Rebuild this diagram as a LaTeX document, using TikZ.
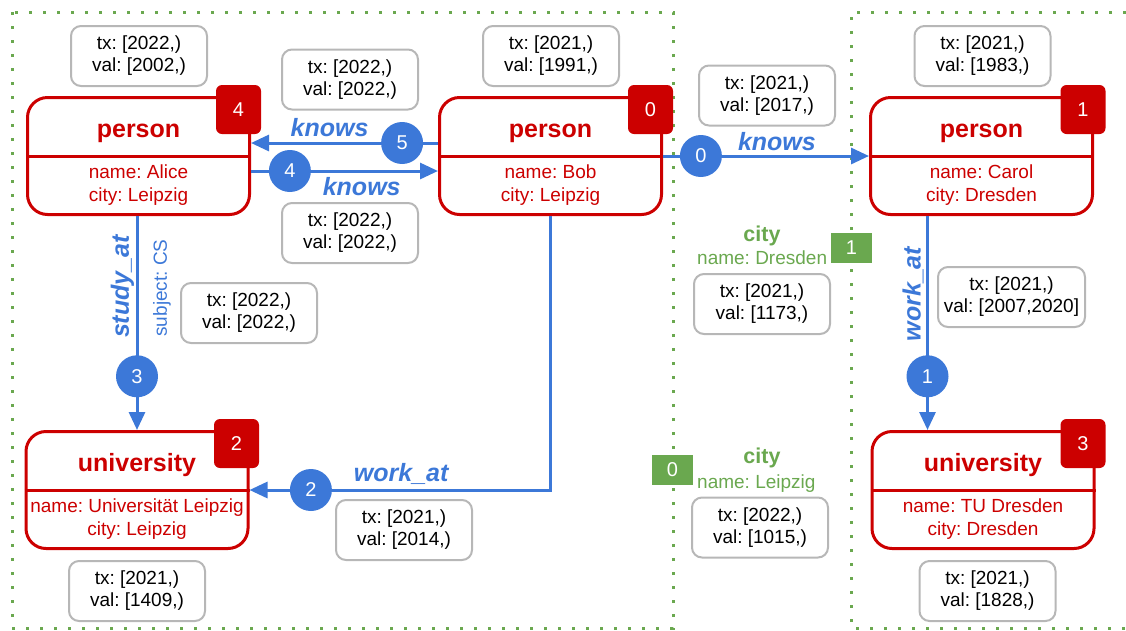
\documentclass[tikz,border=0pt]{standalone}
\usepackage{fontspec}
\setmainfont{Liberation Sans}
\frenchspacing
\usetikzlibrary{arrows.meta,positioning}
\definecolor{entRed}{HTML}{CC0000}
\definecolor{relBlue}{HTML}{3C78D8}
\definecolor{cityGreen}{HTML}{6AA84F}
\definecolor{propGray}{HTML}{B7B7B7}

\begin{document}
\begin{tikzpicture}[
    x=1pt, y=-1pt,
    frame/.style={draw=cityGreen, line width=3pt, dash pattern=on 3pt off 11pt},
    ent/.style={rectangle, rounded corners=20pt, draw=entRed, line width=3pt,
                minimum width=222pt, minimum height=117pt, inner sep=0pt},
    sep/.style={draw=entRed, line width=3pt},
    enttitle/.style={text=entRed, font=\fontsize{25}{30}\selectfont\bfseries, anchor=base, inner sep=0pt},
    entattr/.style={text=entRed, font=\fontsize{19}{22.5}\selectfont, align=center, inner sep=0pt},
    badge/.style={rectangle, rounded corners=6pt, fill=entRed, text=white, minimum width=45pt,
                  minimum height=49pt, font=\fontsize{20}{24}\selectfont, inner sep=0pt},
    prop/.style={rectangle, rounded corners=10pt, draw=propGray, line width=2pt, fill=white,
                 minimum width=136pt, minimum height=60pt, align=center,
                 font=\fontsize{19}{22}\selectfont, inner sep=0pt},
    rel/.style={draw=relBlue, line width=3pt, -{Triangle[length=18pt, width=16pt]}},
    num/.style={circle, fill=relBlue, text=white, minimum size=42pt, inner sep=0pt,
                font=\fontsize{20}{24}\selectfont},
    lbl/.style={text=relBlue, font=\fontsize{25}{30}\selectfont\bfseries\itshape, inner sep=0pt},
    sublbl/.style={text=relBlue, font=\fontsize{19}{22}\selectfont, inner sep=0pt},
    ctitle/.style={text=cityGreen, font=\fontsize{21.5}{26}\selectfont\bfseries, anchor=base, inner sep=0pt},
    cattr/.style={text=cityGreen, font=\fontsize{19}{22}\selectfont, anchor=base west, inner sep=0pt},
    cbadge/.style={rectangle, fill=cityGreen, text=white, minimum width=41pt, minimum height=30pt,
                   font=\fontsize{20}{24}\selectfont, inner sep=0pt},
]
    \useasboundingbox (0,0) rectangle (1126,630);

    % Frames
    \draw[frame] (12,12) rectangle (673,628);
    \draw[frame] (1126,12) -- (851,12) -- (851,628) -- (1126,628);

    % Persons
    \node[ent] (alice) at (138.5,156) {};
    \draw[sep] (alice.west) -- (alice.east);
    \node[enttitle] (alice-t) at (138.5,137.5) {person};
    \node[entattr] (alice-a) at (138.5,185) {name: Alice\\city: Leipzig};
    \node[badge] (alice-b) at (238.5,109.5) {4};
    \node[prop] (alice-p) at (139,56) {tx: [2022,)\\val: [2002,)};

    \node[ent] (bob) at (550.5,156) {};
    \draw[sep] (bob.west) -- (bob.east);
    \node[enttitle] (bob-t) at (550.5,137.5) {person};
    \node[entattr] (bob-a) at (550.5,185) {name: Bob\\city: Leipzig};
    \node[badge] (bob-b) at (650.5,109.5) {0};
    \node[prop] (bob-p) at (551,56) {tx: [2021,)\\val: [1991,)};

    \node[ent] (carol) at (981.5,156) {};
    \draw[sep] (carol.west) -- (carol.east);
    \node[enttitle] (carol-t) at (981.5,137.5) {person};
    \node[entattr] (carol-a) at (981.5,185) {name: Carol\\city: Dresden};
    \node[badge] (carol-b) at (1083,109.5) {1};
    \node[prop] (carol-p) at (982.5,56) {tx: [2021,)\\val: [1983,)};

    % Universities
    \node[ent] (leipuni) at (137,490) {};
    \draw[sep] (leipuni.west) -- (leipuni.east);
    \node[enttitle] (leipuni-t) at (137,471.5) {university};
    \node[entattr] (leipuni-a) at (137,519) {name: Universität Leipzig\\city: Leipzig};
    \node[badge] (leipuni-b) at (236.5,443.5) {2};
    \node[prop] (leipuni-p) at (137,591) {tx: [2021,)\\val: [1409,)};

    \node[ent] (tuuni) at (983,490) {};
    \draw[sep] (tuuni.west) -- (tuuni.east);
    \node[enttitle] (tuuni-t) at (983,471.5) {university};
    \node[entattr] (tuuni-a) at (983,519) {name: TU Dresden\\city: Dresden};
    \node[badge] (tuuni-b) at (1083,443.5) {3};
    \node[prop] (tuuni-p) at (987.5,591) {tx: [2021,)\\val: [1828,)};

    % Cities
    \node[ctitle] (dres-t) at (762,241) {city};
    \node[cattr] (dres-a) at (697,264.5) {name: Dresden};
    \node[cbadge] (dres-b) at (851.5,248) {1};
    \node[prop] (dres-p) at (762,304) {tx: [2021,)\\val: [1173,)};

    \node[ctitle] (leip-t) at (762,463.5) {city};
    \node[cattr] (leip-a) at (697,488) {name: Leipzig};
    \node[cbadge] (leip-b) at (672.5,470) {0};
    \node[prop] (leip-p) at (760,527.5) {tx: [2022,)\\val: [1015,)};

    % Edges
    \draw[rel] ([yshift=13pt]bob.west) -- node[num, pos=0.192] (e5) {5}
        node[lbl, pos=0.58, anchor=base, yshift=7pt] (e5-l) {knows} ([yshift=13pt]alice.east);
    \node[prop] (e5-p) at (350,79.5) {tx: [2022,)\\val: [2022,)};

    \draw[rel] ([yshift=-15pt]alice.east) -- node[num, pos=0.208] (e4) {4}
        node[lbl, pos=0.592, anchor=base, yshift=-24pt] (e4-l) {knows} ([yshift=-15pt]bob.west);
    \node[prop] (e4-p) at (350,233) {tx: [2022,)\\val: [2022,)};

    \draw[rel] (bob.east) -- node[num, pos=0.184] (e0) {0}
        node[lbl, pos=0.553, anchor=base, yshift=5.5pt] (e0-l) {knows} (carol.west);
    \node[prop] (e0-p) at (767,95.5) {tx: [2021,)\\val: [2017,)};

    \draw[rel] (leipuni.north |- alice.south) -- node[num, pos=0.749] (e3) {3} (leipuni.north);
    \node[lbl, rotate=90] (e3-l) at (122.5,286.5) {study\_at};
    \node[sublbl, rotate=90] (e3-s) at (162,288) {subject: CS};
    \node[prop] (e3-p) at (249,313) {tx: [2022,)\\val: [2022,)};

    \draw[rel] (bob.south) |- node[num, pos=0.898] (e2) {2}
        node[lbl, pos=0.748, anchor=base, yshift=9pt] (e2-l) {work\_at} (leipuni.east);
    \node[prop] (e2-p) at (404,530) {tx: [2021,)\\val: [2014,)};

    \draw[rel] ([xshift=-54pt]carol.south) -- node[num, pos=0.749] (e1) {1}
        ([xshift=-54pt]carol.south |- tuuni.north);
    \node[lbl, rotate=90] (e1-l) at (913,294) {work\_at};
    \node[prop, minimum width=147pt] (e1-p) at (1011.5,297) {tx: [2021,)\\val: [2007,2020]};
\end{tikzpicture}
\end{document}
